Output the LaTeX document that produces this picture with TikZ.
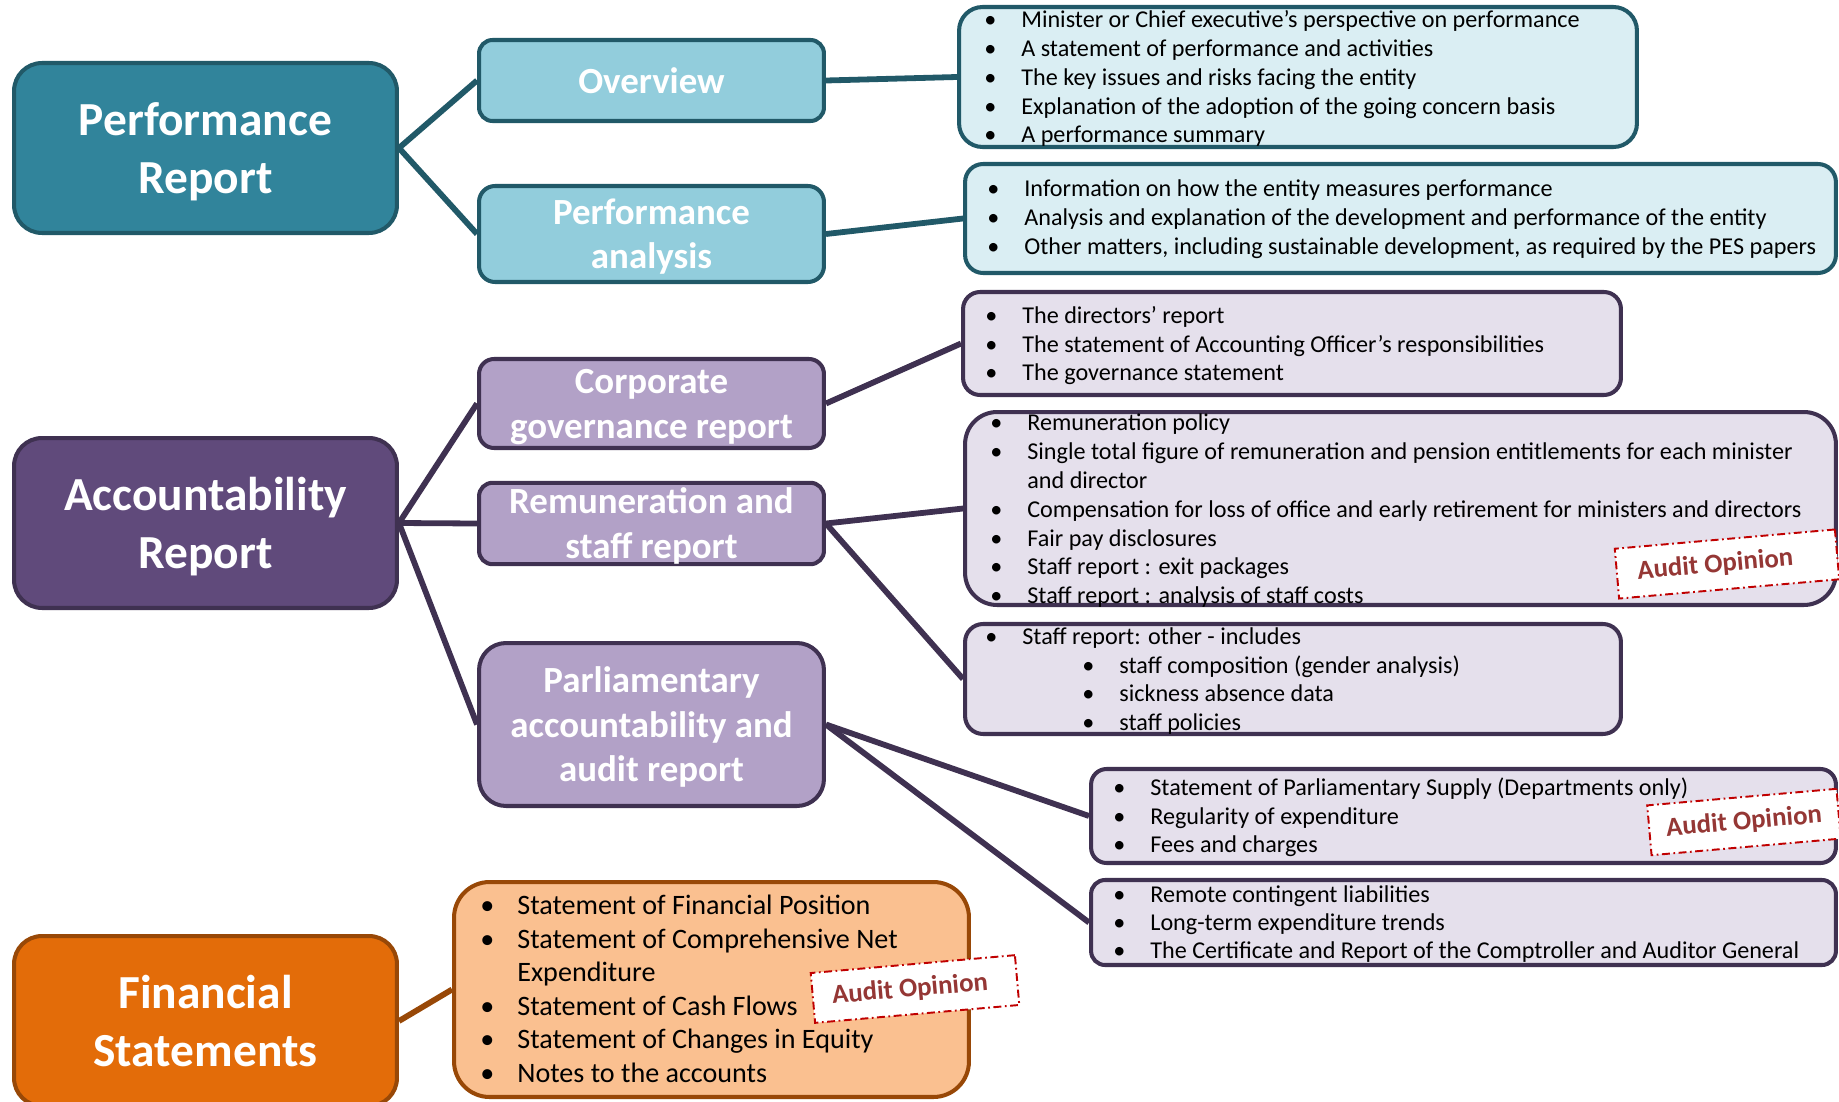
\documentclass[tikz,border=0pt]{standalone}
\usepackage{fontspec}
\setmainfont{Carlito}
\usepackage{xcolor}

\pgfdeclarelayer{bg}
\pgfsetlayers{bg,main}

\begin{document}
\begin{tikzpicture}[x=0.02cm,y=-0.02cm,
    lvlone/.style={draw, line width=2.3pt, rounded corners=0.56cm, text=white,
        font=\fontsize{27}{33}\selectfont\bfseries, align=center,
        minimum width=7.66cm, minimum height=3.4cm},
    lvltwo/.style={draw, line width=2.3pt, text=white, inner ysep=0pt,
        font=\fontsize{21}{25.4}\selectfont\bfseries, align=center,
        minimum width=6.9cm},
    infobox/.style={draw, line width=2.3pt},
    itemtxt/.style={anchor=west, inner sep=0pt, text height=0.7em, text depth=0.2em},
    conn/.style={line width=3.3pt},
    stamp/.style={draw=stampred, fill=white, line width=1.1pt, rotate=5,
        dash pattern=on 4.5pt off 2pt on 1pt off 2pt, text=stamptxt,
        font=\fontsize{15.3}{17}\selectfont\bfseries, minimum height=1cm}]

    \definecolor{tealdk}{RGB}{49,132,155}
    \definecolor{tealln}{RGB}{33,89,104}
    \definecolor{tealmd}{RGB}{146,205,220}
    \definecolor{teallt}{RGB}{218,238,243}
    \definecolor{purpdk}{RGB}{96,74,123}
    \definecolor{purpln}{RGB}{63,49,81}
    \definecolor{purpmd}{RGB}{178,161,199}
    \definecolor{purplt}{RGB}{229,224,236}
    \definecolor{orandk}{RGB}{227,108,9}
    \definecolor{oranln}{RGB}{152,72,7}
    \definecolor{oranlt}{RGB}{250,192,144}
    \definecolor{stampred}{RGB}{192,0,0}
    \definecolor{stamptxt}{RGB}{149,55,53}

    % struts so headings sit like the slide
    \newcommand{\hdup}{\rule{0pt}{0.95em}}
    \newcommand{\hddn}{\rule[-0.25em]{0pt}{0pt}}
    \newcommand{\secup}{\rule{0pt}{0.84em}}
    \newcommand{\secdn}{\rule[-0.14em]{0pt}{0pt}}

    % prefix, font size, bullet x, first y, line step, level/text list
    \newcommand{\blist}[6]{%
        \foreach \lv/\itm [count=\i] in {#6}{
            \pgfmathsetmacro{\yy}{#4+(\i-1)*#5}
            \pgfmathsetmacro{\tx}{#3+30+97*(\lv==2)}
            \ifnum\lv>0
                \node[itemtxt,font=\fontsize{#2}{#2}\selectfont] (#1b\i) at (\tx-37,\yy) {•};
            \fi
            \node[itemtxt,font=\fontsize{#2}{#2}\selectfont] (#1t\i) at (\tx,\yy) {\itm};
        }
    }

    \useasboundingbox (0,0) rectangle (1839,1102);

    % main headings
    \node[lvlone, fill=tealdk, draw=tealln] (pr) at (205.5,148) {\hdup Performance\\Report\hddn};
    \node[lvlone, fill=purpdk, draw=purpln] (ar) at (205.5,523) {\hdup Accountability\\Report\hddn};
    \node[lvlone, fill=orandk, draw=oranln] (fs) at (205.5,1021) {\hdup Financial\\Statements\hddn};

    % sections
    \node[lvltwo, fill=tealmd, draw=tealln, minimum height=1.62cm, rounded corners=0.27cm] (ov) at (651.5,80.5) {\secup Overview\secdn};
    \node[lvltwo, fill=tealmd, draw=tealln, minimum height=1.92cm, rounded corners=0.32cm] (pa) at (651.5,234) {\secup Performance\\analysis\secdn};
    \node[lvltwo, fill=purpmd, draw=purpln, minimum height=1.78cm, rounded corners=0.3cm] (cg) at (651.5,403.5) {\secup Corporate\\governance report\secdn};
    \node[lvltwo, fill=purpmd, draw=purpln, minimum height=1.62cm, rounded corners=0.27cm] (rs) at (651.5,523.5) {\secup Remuneration and\\staff report\secdn};
    \node[lvltwo, fill=purpmd, draw=purpln, minimum height=3.26cm, rounded corners=0.54cm] (pq) at (651.5,724.5) {\secup Parliamentary\\accountability and\\audit report\secdn};

    % contents boxes
    \node[infobox, fill=teallt, draw=tealln, minimum width=13.56cm, minimum height=2.8cm, rounded corners=0.47cm] (d1) at (1298,77) {};
    \node[infobox, fill=teallt, draw=tealln, minimum width=17.42cm, minimum height=2.18cm, rounded corners=0.36cm] (d2) at (1400.5,218.5) {};
    \node[infobox, fill=purplt, draw=purpln, minimum width=13.16cm, minimum height=2.06cm, rounded corners=0.34cm] (d3) at (1292,343.5) {};
    \node[infobox, fill=purplt, draw=purpln, minimum width=17.42cm, minimum height=3.86cm, rounded corners=0.64cm] (d4) at (1400.5,508.5) {};
    \node[infobox, fill=purplt, draw=purpln, minimum width=13.12cm, minimum height=2.2cm, rounded corners=0.36cm] (d5) at (1293,679) {};
    \node[infobox, fill=purplt, draw=purpln, minimum width=14.9cm, minimum height=1.88cm, rounded corners=0.31cm] (d6) at (1463.5,816) {};
    \node[infobox, fill=purplt, draw=purpln, minimum width=14.9cm, minimum height=1.7cm, rounded corners=0.28cm] (d7) at (1463.5,922.5) {};
    \node[infobox, fill=oranlt, draw=oranln, minimum width=10.3cm, minimum height=4.3cm, rounded corners=0.71cm] (fo) at (711.5,989.5) {};

    \begin{pgfonlayer}{bg}
        \draw[conn, tealln] (pr.east) -- (ov.west);
        \draw[conn, tealln] (pr.east) -- (pa.west);
        \draw[conn, tealln] (ov.east) -- (d1.west);
        \draw[conn, tealln] (pa.east) -- (d2.west);
        \draw[conn, purpln] (ar.east) -- (cg.west);
        \draw[conn, purpln] (ar.east) -- (rs.west);
        \draw[conn, purpln] (ar.east) -- (pq.west);
        \draw[conn, purpln] (cg.east) -- (d3.west);
        \draw[conn, purpln] (rs.east) -- (d4.west);
        \draw[conn, purpln] (rs.east) -- (d5.west);
        \draw[conn, purpln] (pq.east) -- (d6.west);
        \draw[conn, purpln] (pq.east) -- (d7.west);
        \draw[conn, oranln] (fs.east) -- (fo.west);
    \end{pgfonlayer}

    \blist{d1}{13.75}{991}{23.5}{28.75}{
        1/Minister or Chief executive’s perspective on performance,
        1/A statement of performance and activities,
        1/The key issues and risks facing the entity,
        1/Explanation of the adoption of the going concern basis,
        1/A performance summary}
    \blist{d2}{13.75}{994}{192.5}{29}{
        1/Information on how the entity measures performance,
        1/Analysis and explanation of the development and performance of the entity,
        1/{Other matters, including sustainable development, as required by the PES papers}}
    \blist{d3}{13.75}{992}{319}{28.75}{
        1/The directors’ report,
        1/The statement of Accounting Officer’s responsibilities,
        1/The governance statement}
    \blist{d4}{13.75}{997}{426.5}{28.8}{
        1/Remuneration policy,
        1/Single total figure of remuneration and pension entitlements for each minister,
        0/and director,
        1/Compensation for loss of office and early retirement for ministers and directors,
        1/Fair pay disclosures,
        1/Staff report : exit packages,
        1/Staff report : analysis of staff costs}
    \blist{d5}{13.75}{992}{640.5}{28.5}{
        1/Staff report: other - includes,
        2/staff composition (gender analysis),
        2/sickness absence data,
        2/staff policies}
    \blist{d6}{13.75}{1120}{791.5}{28.5}{
        1/Statement of Parliamentary Supply (Departments only),
        1/Regularity of expenditure,
        1/Fees and charges}
    \blist{d7}{13.75}{1120}{898.5}{28}{
        1/Remote contingent liabilities,
        1/Long-term expenditure trends,
        1/The Certificate and Report of the Comptroller and Auditor General}
    \blist{fo}{16}{487}{910.5}{33.5}{
        1/Statement of Financial Position,
        1/Statement of Comprehensive Net,
        0/Expenditure,
        1/Statement of Cash Flows,
        1/Statement of Changes in Equity,
        1/Notes to the accounts}

    % audit stamps
    \node[stamp, minimum width=4.42cm] (aud1) at (1727,564) {Audit Opinion\kern0.47cm};
    \node[stamp, minimum width=3.8cm] (aud2) at (1744,822) {Audit Opinion};
    \node[stamp, minimum width=4.1cm] (aud3) at (915,989) {Audit Opinion\kern0.2cm};

\end{tikzpicture}
\end{document}
